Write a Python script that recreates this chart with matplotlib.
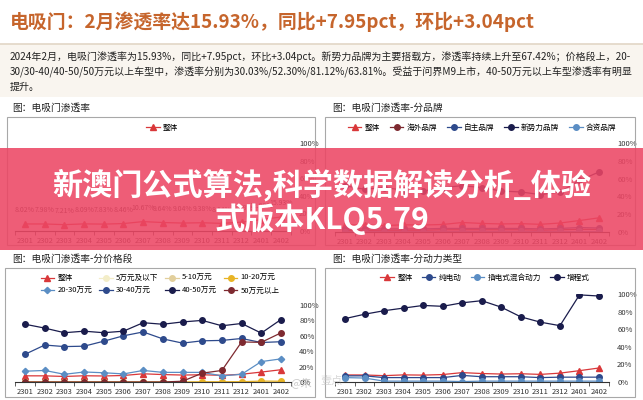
import matplotlib
matplotlib.use('Agg')
import matplotlib.pyplot as plt
from matplotlib.patches import Rectangle
from matplotlib.lines import Line2D

plt.rcParams['font.family'] = ['Noto Sans CJK SC', 'DejaVu Sans']
plt.rcParams['axes.unicode_minus'] = False

W, H = 643, 400

# ---------------- data ----------------
months = ['2301', '2302', '2303', '2304', '2305', '2306', '2307',
          '2308', '2309', '2310', '2311', '2312', '2401', '2402']
overall = [8.02, 7.98, 7.21, 8.09, 7.83, 8.46, 10.67, 9.64, 9.04, 9.38, 8.64, 10.08, 12.89, 15.93]

brand_names = ['整体', '海外品牌', '自主品牌', '新势力品牌', '合资品牌']
brand_overseas = [1.5, 1.8, 2.0, 2.0, 2.0, 2.5, 2.5, 2.5, 2.5, 2.5, 2.0, 2.5, 3.0, 3.0]
brand_domestic = [3.0, 3.5, 3.5, 3.5, 3.5, 4.0, 4.0, 4.0, 4.0, 4.0, 3.5, 4.0, 5.0, 4.5]
brand_newforce = [52, 48, 50, 47, 46, 50, 52, 50, 46, 45, 42, 45, 58, 67.42]
brand_jv = [0.5, 0.5, 0.5, 0.5, 0.5, 0.6, 0.6, 0.6, 0.6, 0.6, 0.6, 0.6, 0.7, 0.7]

price_names = ['整体', '5万元及以下', '5-10万元', '10-20万元',
               '20-30万元', '30-40万元', '40-50万元', '50万元以上']
price_5below = [0, 0, 0, 0, 0, 0, 0, 0, 0, 0, 0, 0, 0, 0]
price_5_10 = [0, 0, 0, 0, 0, 0, 0, 0, 0, 0, 0, 0, 0, 0]
price_10_20 = [0, 0, 0, 0, 0, 0, 0, 0, 0, 0.3, 0.3, 0.4, 1.2, 1.0]
price_20_30 = [14, 15, 10, 13, 12, 10.5, 15, 12.5, 12.5, 12.5, 8, 10, 26.5, 30.03]
price_30_40 = [36, 48, 46, 46.5, 53, 60, 65, 56, 50.5, 53.5, 54, 56.5, 51.3, 52.30]
price_40_50 = [75, 70, 64, 66, 64, 66, 77, 75, 78, 80, 73, 76, 63.5, 81.12]
price_50up = [0, 0, 0, 0, 0, 0, 0, 0, 1, 11.5, 15, 52, 51.5, 63.81]

power_names = ['整体', '纯电动', '插电式混合动力', '增程式']
power_bev = [7, 7, 5, 5, 5, 5, 7.5, 6, 6, 6, 5, 5.5, 5.5, 5.5]
power_phev = [5, 4.5, 1, 1, 1, 1, 0.5, 1, 1, 1, 1, 1, 1, 1]
power_erev = [72, 77, 81, 84, 87, 86, 90, 92.4, 85, 74, 68, 64, 99, 97.7]

yticks = [0, 20, 40, 60, 80, 100]
ytick_labels = ['0%', '20%', '40%', '60%', '80%', '100%']

title_text = '电吸门：2月渗透率达15.93%，同比+7.95pct，环比+3.04pct'
para_lines = [
    '2024年2月，电吸门渗透率为15.93%，同比+7.95pct，环比+3.04pct。新势力品牌为主要搭载方，渗透率持续上升至67.42%；价格段上，20-',
    '30/30-40/40-50/50万元以上车型中，渗透率分别为30.03%/52.30%/81.12%/63.81%。受益于问界M9上市，40-50万元以上车型渗透率有明显',
    '提升。',
]
captions = ['图：电吸门渗透率', '图：电吸门渗透率-分品牌', '图：电吸门渗透率-分价格段', '图：电吸门渗透率-分动力类型']
banner_lines = ['新澳门公式算法,科学数据解读分析_体验', '式版本KLQ5.79']

# ---------------- colours ----------------
RED = '#d9383a'
NAVY = '#1a1c4c'
BLUE = '#2e4a8c'
STEEL = '#5b8ec4'
MAROON = '#7e2a30'
GOLD = '#e8b425'
TAN = '#e2cf9c'
PALE = '#f3edc8'

fig = plt.figure(figsize=(W / 100, H / 100), dpi=100)
fig.patch.set_facecolor('white')


def fx(x):
    return x / W


def fy(y):
    return 1 - y / H


def add_rect(x0, y0, x1, y1, **kw):
    r = Rectangle((fx(x0), fy(y1)), (x1 - x0) / W, (y1 - y0) / H,
                  transform=fig.transFigure, **kw)
    fig.add_artist(r)
    return r


def make_axes(x0, x1, ytop, ybot):
    ax = fig.add_axes([fx(x0), fy(ybot), (x1 - x0) / W, (ybot - ytop) / H])
    ax.set_facecolor('none')
    ax.set_xlim(-0.5, len(months) - 0.5)
    ax.set_ylim(0, 100)
    ax.set_xticks(range(len(months)))
    ax.set_xticklabels(months, fontsize=5.5, color='#333333')
    ax.set_xticks([i + 0.5 for i in range(-1, len(months))], minor=True)
    ax.tick_params(axis='x', which='major', length=0, pad=4)
    ax.tick_params(axis='x', which='minor', length=3, width=0.6, color='#444444')
    ax.yaxis.tick_right()
    ax.set_yticks(yticks)
    ax.set_yticklabels(ytick_labels, fontsize=5.5, color='#333333')
    ax.tick_params(axis='y', length=0, pad=6)
    for s in ['top', 'left', 'right']:
        ax.spines[s].set_visible(False)
    ax.spines['bottom'].set_color('#333333')
    ax.spines['bottom'].set_linewidth(0.8)
    return ax


# ---------------- header ----------------
fig.text(fx(10), fy(22), title_text, fontsize=13.6, fontweight='bold',
         color='#c6652c', ha='left', va='center')
add_rect(0, 44, W, 97, facecolor='#f9f5ef', edgecolor='none', zorder=0)
fig.add_artist(Line2D([0, 1], [fy(44), fy(44)], transform=fig.transFigure,
                      color='#e2d6c6', lw=1.2))
for i, line in enumerate(para_lines):
    fig.text(fx(10), fy(57 + 15 * i), line, fontsize=7.2, color='#222222',
             ha='left', va='center')

# ---------------- captions & frames ----------------
fig.text(fx(12), fy(108), captions[0], fontsize=7, color='#222222', va='center')
fig.text(fx(332), fy(108), captions[1], fontsize=7, color='#222222', va='center')
fig.text(fx(12), fy(259), captions[2], fontsize=7, color='#222222', va='center')
fig.text(fx(332), fy(259), captions[3], fontsize=7, color='#222222', va='center')
for (x0, y0, x1, y1) in [(7, 117, 315, 245), (325, 117, 635, 245),
                         (5, 268, 315, 397), (325, 268, 635, 397)]:
    add_rect(x0, y0, x1, y1, facecolor='none', edgecolor='#a8a8a8', lw=0.8)

xs = range(len(months))
lkw = dict(lw=0.9, markersize=4)
leg_kw = dict(frameon=False, fontsize=5.5, handlelength=1.8, handletextpad=0.4,
              bbox_transform=fig.transFigure, loc='center', borderaxespad=0)

# ---------------- panel 1 ----------------
ax1 = make_axes(15.2, 290.8, 143, 231)
ax1.plot(xs, overall, color=RED, marker='^', label='整体', lw=0.9, markersize=4.5)
for i, v in enumerate(overall):
    ax1.annotate(f'{v:.2f}%', (i, v), xytext=(0, 7), textcoords='offset points',
                 ha='center', va='bottom', fontsize=5.0, color='#333333')
ax1.legend(bbox_to_anchor=(fx(162), fy(128)), **leg_kw)

# ---------------- panel 2 ----------------
ax2 = make_axes(335.2, 608.8, 143, 232)
ax2.plot(xs, overall, color=RED, marker='^', label=brand_names[0], **lkw)
ax2.plot(xs, brand_overseas, color=MAROON, marker='o', label=brand_names[1], **lkw)
ax2.plot(xs, brand_domestic, color=BLUE, marker='o', label=brand_names[2], **lkw)
ax2.plot(xs, brand_newforce, color=NAVY, marker='o', label=brand_names[3], **lkw)
ax2.plot(xs, brand_jv, color=STEEL, marker='o', label=brand_names[4], **lkw)
ax2.legend(bbox_to_anchor=(fx(482), fy(128)), ncol=5, columnspacing=1.3, **leg_kw)

# ---------------- panel 3 ----------------
ax3 = make_axes(15.2, 290.8, 305, 382)
p_series = [(overall, RED, '^'), (price_5below, PALE, 'o'), (price_5_10, TAN, 'o'),
            (price_10_20, GOLD, 'o'), (price_20_30, STEEL, 'D'), (price_30_40, BLUE, 'o'),
            (price_40_50, NAVY, 'o'), (price_50up, MAROON, 'o')]
handles = []
for (vals, col, mk), name in zip(p_series, price_names):
    h, = ax3.plot(xs, vals, color=col, marker=mk, label=name, lw=0.9,
                  markersize=4.5 if mk == '^' else (3.2 if mk == 'D' else 4))
    handles.append(h)
order = [0, 4, 1, 5, 2, 6, 3, 7]
ax3.legend([handles[i] for i in order], [price_names[i] for i in order],
           bbox_to_anchor=(fx(160), fy(284.5)), ncol=4, columnspacing=0.9,
           labelspacing=0.6, **leg_kw)

# ---------------- panel 4 ----------------
ax4 = make_axes(335.2, 608.8, 294, 382)
ax4.plot(xs, overall, color=RED, marker='^', label=power_names[0], lw=0.9, markersize=4.5)
ax4.plot(xs, power_bev, color=BLUE, marker='o', label=power_names[1], **lkw)
ax4.plot(xs, power_phev, color=STEEL, marker='o', label=power_names[2], **lkw)
ax4.plot(xs, power_erev, color=NAVY, marker='o', label=power_names[3], **lkw)
ax4.legend(bbox_to_anchor=(fx(485), fy(278)), ncol=4, columnspacing=1.2, **leg_kw)

# watermarks
fig.text(fx(290), fy(383), '@朱', fontsize=8, color='#bdbdbd', alpha=0.8, va='center')
fig.text(fx(320), fy(381), '壹点', fontsize=8, color='#c8c8c8', alpha=0.7, va='center')

# ---------------- banner overlay ----------------
add_rect(0, 148, W, 250, facecolor=(236 / 255, 70 / 255, 100 / 255), alpha=0.88,
         edgecolor='none', zorder=10)
fig.text(0.5, fy(185), banner_lines[0], fontsize=21.7, fontweight='bold', color='white',
         ha='center', va='center', zorder=11)
fig.text(0.5, fy(219), banner_lines[1], fontsize=21.7, fontweight='bold', color='white',
         ha='center', va='center', zorder=11)

fig.savefig('out.png', dpi=100)
